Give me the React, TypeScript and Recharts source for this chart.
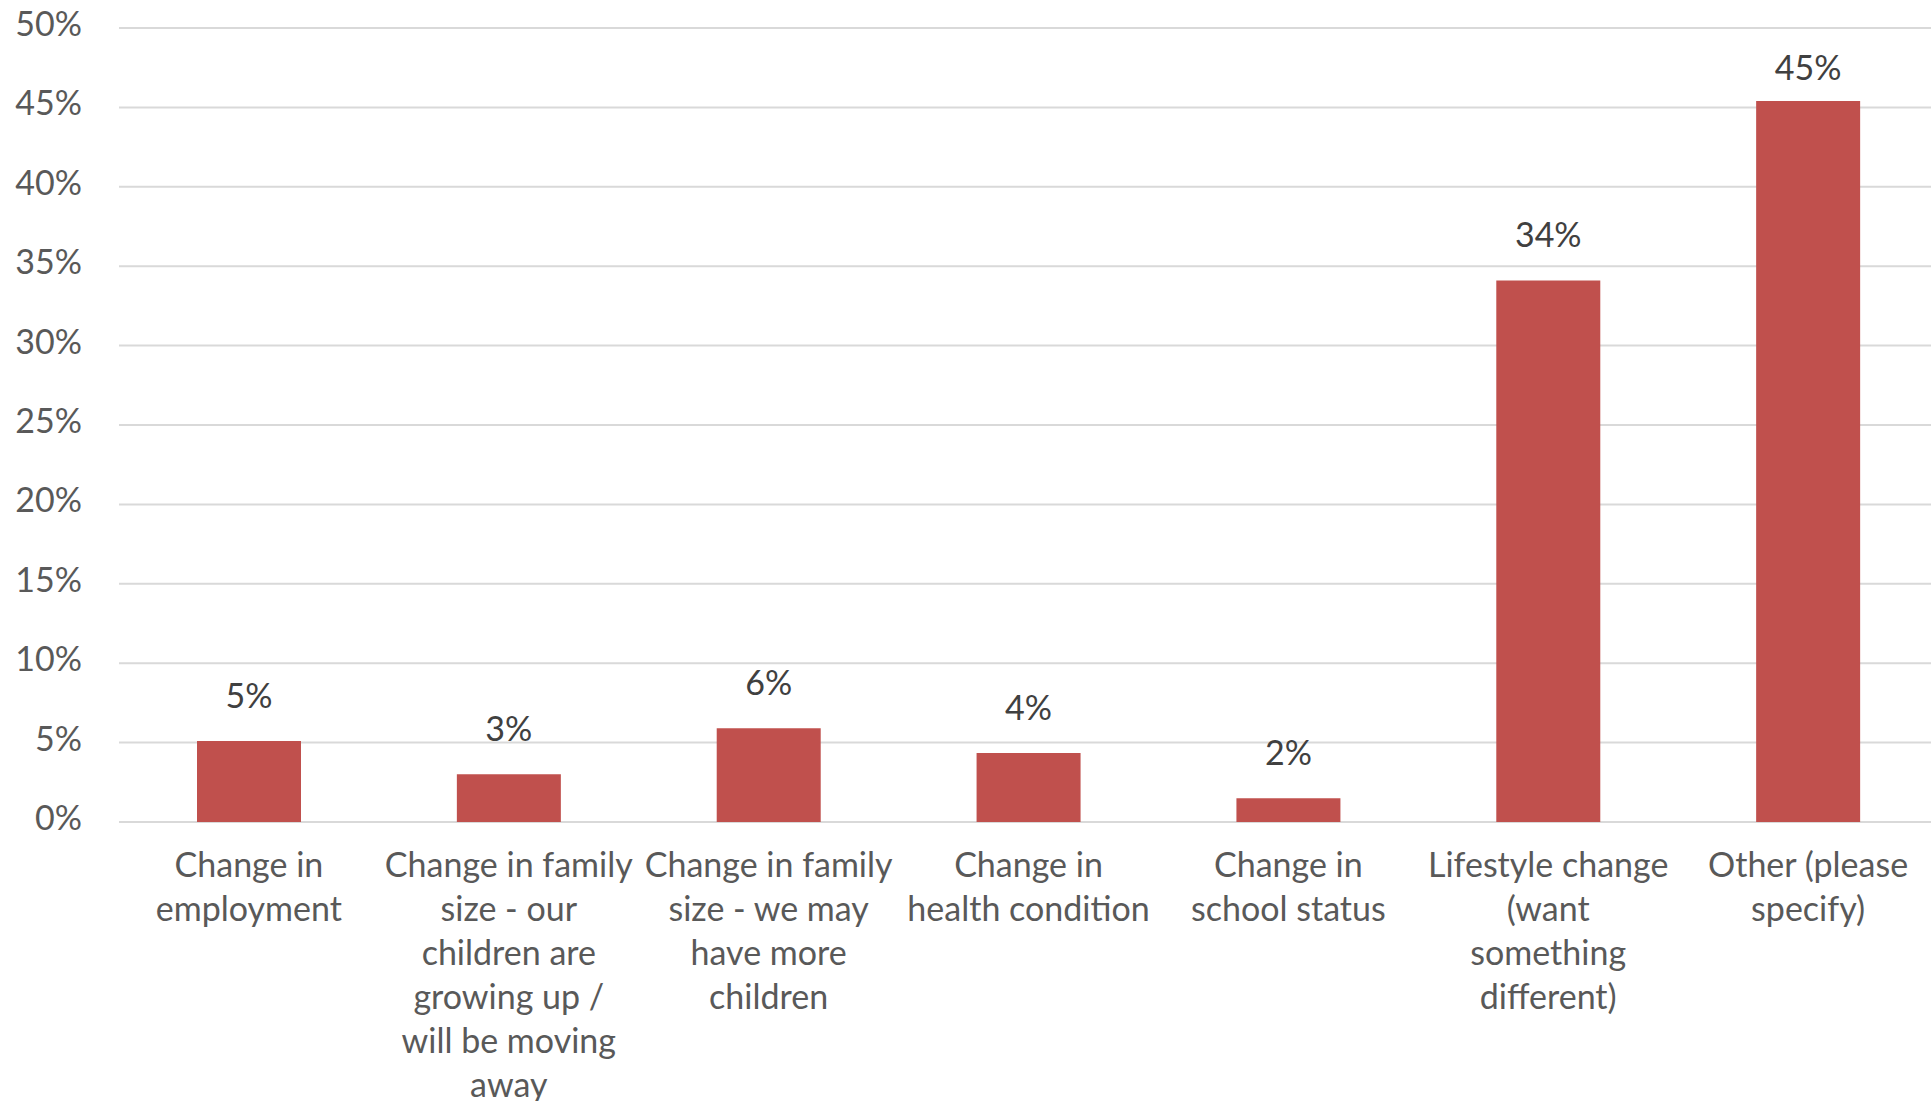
import React from 'react';
import { BarChart, Bar, XAxis, YAxis, CartesianGrid, LabelList } from 'recharts';

// Reasons for moving, share of respondents (%)
const categories = [
  'Change in employment',
  'Change in family size - our children are growing up / will be moving away',
  'Change in family size - we may have more children',
  'Change in health condition',
  'Change in school status',
  'Lifestyle change (want something different)',
  'Other (please specify)',
];
const shares = [5.1, 3.0, 5.9, 4.35, 1.5, 34.1, 45.4];

// wrapped category labels as shown under the axis
const categoryLines = [
  ['Change in', 'employment'],
  ['Change in family', 'size - our', 'children are', 'growing up /', 'will be moving', 'away'],
  ['Change in family', 'size - we may', 'have more', 'children'],
  ['Change in', 'health condition'],
  ['Change in', 'school status'],
  ['Lifestyle change', '(want', 'something', 'different)'],
  ['Other (please', 'specify)'],
];
const yTicks = [0, 5, 10, 15, 20, 25, 30, 35, 40, 45, 50];

const FONT = 'Lato, "Open Sans", sans-serif';
const FONT_SIZE = 34;

const data = categories.map((name, i) => ({ name, share: shares[i] }));

const CategoryTick = (props: any) => {
  const { x, y, payload } = props;
  const lines = categoryLines[categories.indexOf(payload.value)] || [payload.value];
  return (
    <text x={x} y={y} textAnchor="middle" fill="#595959" fontFamily={FONT} fontSize={FONT_SIZE}>
      {lines.map((line, i) => (
        <tspan key={i} x={x} dy={i === 0 ? 55 : 44}>
          {line}
        </tspan>
      ))}
    </text>
  );
};

const PercentTick = (props: any) => {
  const { y, payload } = props;
  return (
    <text x={82} y={y - 4} dy="0.35em" textAnchor="end" fill="#595959" fontFamily={FONT} fontSize={FONT_SIZE}>
      {`${payload.value}%`}
    </text>
  );
};

// labels sit above the bar but are kept inside the plot area near the top
const ValueLabel = (props: any) => {
  const { x, y, width, value } = props;
  return (
    <text x={x + width / 2} y={Math.max(y - 33, 80)} textAnchor="middle" fill="#404040" fontFamily={FONT} fontSize={FONT_SIZE}>
      {`${Math.round(value)}%`}
    </text>
  );
};

export default function App() {
  return (
    <div style={{ position: 'absolute', left: 0, top: 0, width: 1931, height: 1101, overflow: 'hidden', background: '#fff' }}>
      <BarChart width={1938} height={1101} data={data} margin={{ top: 28, right: 0, left: 0, bottom: 0 }}>
        <CartesianGrid vertical={false} stroke="#D9D9D9" strokeWidth={2} />
        <XAxis
          dataKey="name"
          axisLine={false}
          tickLine={false}
          tickSize={0}
          tickMargin={0}
          height={279}
          interval={0}
          tick={<CategoryTick />}
        />
        <YAxis
          width={119}
          domain={[0, 50]}
          ticks={yTicks}
          axisLine={false}
          tickLine={false}
          tick={<PercentTick />}
        />
        <Bar dataKey="share" fill="#C0504D" barSize={104} isAnimationActive={false}>
          <LabelList dataKey="share" content={<ValueLabel />} />
        </Bar>
      </BarChart>
    </div>
  );
}
